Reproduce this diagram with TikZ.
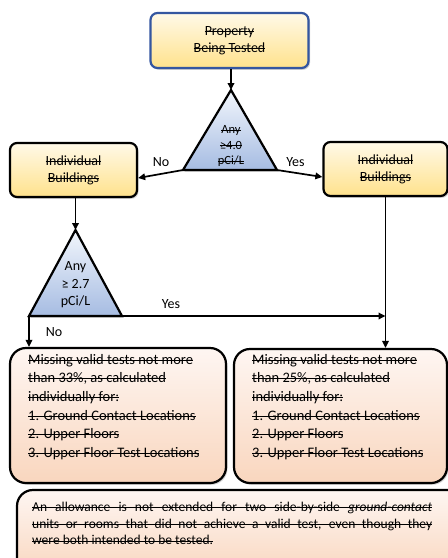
\documentclass[tikz,border=0pt]{standalone}
\usepackage{fontspec}
\setmainfont{Carlito}
\usetikzlibrary{arrows.meta,calc,shadows}
\newcommand\stk[1]{\leavevmode\setbox0=\hbox{#1}\rlap{\rule[0.24em]{\wd0}{0.075em}}\box0}
\newcommand\stkfull[2]{\leavevmode\rlap{\rule[0.24em]{#1}{0.075em}}\hbox to #1{#2}}
\definecolor{bordblue}{RGB}{52,86,160}
\definecolor{ylwtop}{RGB}{255,249,232}
\definecolor{ylwbot}{RGB}{255,226,140}
\definecolor{blutop}{RGB}{242,246,252}
\definecolor{blubot}{RGB}{166,188,226}
\definecolor{pchtop}{RGB}{254,246,242}
\definecolor{pchbot}{RGB}{249,214,190}
\tikzset{
  shd/.style={drop shadow={opacity=0.35,shadow xshift=1.5pt,shadow yshift=-1.8pt}},
  ybox/.style={shd,draw=black,line width=2.2pt,rounded corners=7pt,top color=ylwtop,bottom color=ylwbot,
    align=center,font=\fontsize{14}{17}\selectfont,inner sep=0pt},
  pbox/.style={shd,draw=black,line width=2.2pt,rounded corners=16pt,top color=pchtop,bottom color=pchbot,inner sep=0pt},
  tri/.style={shd,draw=black,line width=2.2pt,line join=miter,top color=blutop,bottom color=blubot},
  conn/.style={line width=1.7pt,-{Triangle[length=7pt,width=6.5pt]}},
  lbl/.style={font=\fontsize{14}{17}\selectfont,inner sep=0pt},
  btext/.style={align=left,font=\fontsize{14.5}{18.6}\selectfont,inner sep=0pt,anchor=north west}
}
\begin{document}
\begin{tikzpicture}[x=1pt,y=-1pt]
\useasboundingbox[fill=white] (0,0) rectangle (448,558);
% top box
\node[ybox,draw=bordblue,minimum width=158pt,minimum height=55pt] (prop) at (229.5,40.5)
  {\stk{Property}\\\stk{Being Tested}};
% triangle 1
\coordinate (t1a) at (231,90);
\coordinate (t1l) at (183,170);
\coordinate (t1r) at (277,170);
\path[tri] (t1a) -- (t1r) -- (t1l) -- cycle;
\node[align=center,font=\fontsize{12.5}{15.5}\selectfont,inner sep=0pt] (t1t) at (231,146)
  {\stk{Any}\\\stk{≥4.0}\\\stk{pCi/L}};
% side boxes
\node[ybox,minimum width=127pt,minimum height=54pt] (lb) at (73.5,170)
  {\stk{Individual}\\\stk{Buildings}};
\node[ybox,minimum width=124pt,minimum height=54pt] (rb) at (385.5,169)
  {\stk{Individual}\\\stk{Buildings}};
% triangle 2
\coordinate (t2a) at (75.5,230);
\coordinate (t2l) at (29,316);
\coordinate (t2r) at (122,316);
\path[tri] (t2a) -- (t2r) -- (t2l) -- cycle;
\node[align=center,font=\fontsize{14}{17.5}\selectfont,inner sep=0pt] (t2t) at (75.5,285)
  {Any\\≥ 2.7\\pCi/L};
% bottom boxes
\node[pbox,minimum width=216pt,minimum height=135pt] (lbox) at (118,415.5) {};
\node[pbox,minimum width=213pt,minimum height=134pt] (rbox) at (340.5,416) {};
\node[btext] (ltext) at (28,354)
  {\stk{Missing valid tests not more}\\\stk{than 33\%, as calculated}\\\stk{individually for:}\\
   \stk{1. Ground Contact Locations}\\\stk{2. Upper Floors}\\\stk{3. Upper Floor Test Locations}};
\node[btext] (rtext) at (252,354)
  {\stk{Missing valid tests not more}\\\stk{than 25\%, as calculated}\\\stk{individually for:}\\
   \stk{1. Ground Contact Locations}\\\stk{2. Upper Floors}\\\stk{3. Upper Floor Test Locations}};
% wide note box
\node[pbox,minimum width=446pt,minimum height=86pt] (note) at (240,533) {};
\node[align=left,font=\fontsize{13.5}{16.7}\selectfont,inner sep=0pt,anchor=north west] (ntext) at (32,502)
  {\stkfull{400pt}{An allowance is not extended for two side-by-side \textit{ground-contact}}\\
   \stkfull{400pt}{units or rooms that did not achieve a valid test, even though they}\\
   \stk{were both intended to be tested.}};
% connectors
\draw[conn] (t1a |- prop.south) -- (t1a);
\draw[conn] (t1l) -- ($(lb.east)+(0,8)$);
\draw[conn] (t1r) -- ($(rb.west)+(0,8)$);
\draw[conn] (t2a |- lb.south) -- (t2a);
\coordinate (jn) at (rb.south |- t2r);
\draw[conn] (t2r) -- (jn);
\draw[conn] (rb.south) -- (rb.south |- rbox.north);
\draw[conn] (t2l) -- (t2l |- lbox.north);
% labels
\node[lbl] (no1) at (161,162) {No};
\node[lbl] (yes1) at (295.5,162) {Yes};
\node[lbl] (yes2) at (171,304) {Yes};
\node[lbl] (no2) at (54,332) {No};
\end{tikzpicture}
\end{document}
